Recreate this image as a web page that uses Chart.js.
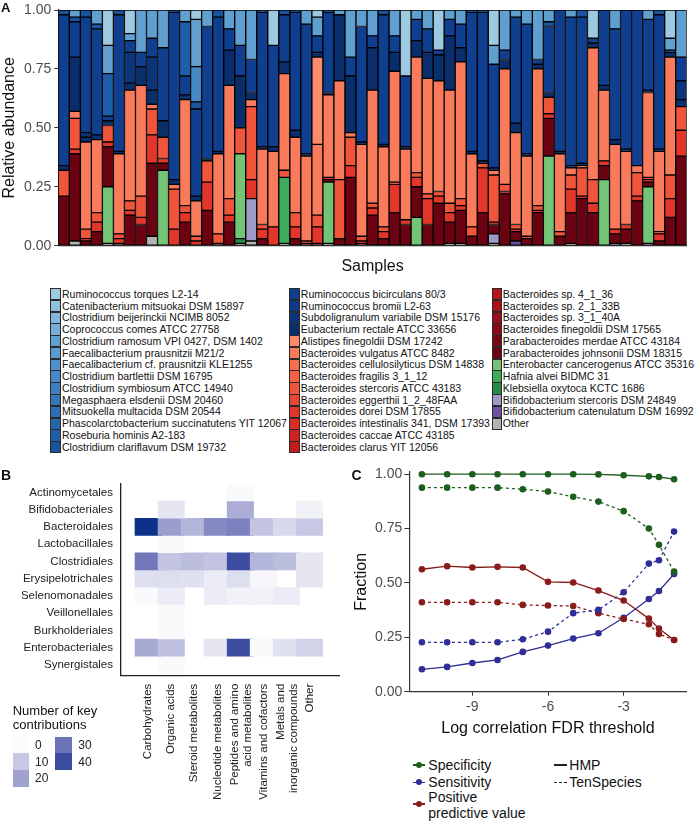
<!DOCTYPE html>
<html><head><meta charset="utf-8">
<script src="https://cdn.jsdelivr.net/npm/chart.js@4.4.1/dist/chart.umd.min.js"></script>
<style>
body{margin:0;background:#fff;width:696px;height:821px;position:relative;overflow:hidden;font-family:"Liberation Sans",Arial,sans-serif;color:#111;}
canvas{position:absolute;}
.t{position:absolute;white-space:nowrap;}
.sw{position:absolute;box-sizing:border-box;}
</style></head><body>
<canvas id="cA" width="696" height="280" style="left:0;top:0"></canvas>
<canvas id="cB" width="345" height="340" style="left:0;top:470px"></canvas>
<canvas id="cC" width="351" height="282" style="left:345px;top:463px"></canvas>
<div id="overlay"></div>
<script>
// ---------------- Panel A data (relative abundance per sample) ----------------
const otherA     = [0,.02,0,0,.01,0,0,0,.04,0, 0,0,0,0,0,0,.01,.02,0,0, .01,0,0,0,.01,0,0,0,0,0, 0,0,0,0,0,.01,.01,0,0,.01, 0,0,0,0,0,0,.01,0,0,0, 0,.01,0,0,0,0,0];
const bifCaten   = [0,0,0,0,0,0,0,0,0,0, 0,0,0,0,0,0,0,0,0,0, 0,0,0,0,0,0,0,0,0,0, 0,0,0,0,0,0,0,0,0,0, 0,.02,0,0,0,0,0,0,0,0, .01,0,0,.01,0,0,0];
const bifSterc   = [0,0,0,0,0,0,0,0,0,0, 0,0,0,0,0,0,0,.18,0,0, 0,0,0,0,0,0,0,0,0,0, 0,0,0,0,0,0,0,0,0,.04, 0,0,0,0,0,0,0,0,0,0, 0,0,0,0,0,0,0];
const klebsiella = [0,0,0,0,0,0,0,0,0,0, 0,0,0,0,0,0,.02,0,0,0, 0,0,0,0,0,0,0,0,0,0, 0,0,0,0,0,0,0,0,0,0, 0,0,0,0,0,0,0,0,0,0, 0,0,0,0,0,0,0];
const hafnia     = [0,0,0,0,0,0,0,0,0,0, 0,0,0,0,0,0,0,0,0,0, .28,0,0,0,0,0,0,0,0,0, 0,0,0,0,0,0,0,0,0,0, 0,0,0,0,0,0,0,0,0,0, 0,0,0,0,0,0,0];
const enterobact = [0,0,0,0,.24,0,0,0,0,.32, 0,0,0,0,0,0,.36,0,0,0, 0,0,0,0,.26,0,0,0,0,0, 0,0,.12,0,0,0,0,0,0,0, 0,0,0,0,.38,0,0,0,0,.28, 0,0,0,.24,0,0,0];
const parabJohn  = [.21,.37,.02,.06,.17,.01,.13,.09,.31,.03, 0,.10,0,.15,.01,.10,0,0,.03,0, 0,.03,.01,.01,.01,.03,.29,.01,.13,.03, .14,.09,.13,.09,.18,.09,.14,.04,.14,.04, .22,.04,.03,.14,.16,.04,.13,.20,.14,.06, .04,.06,.19,.02,.02,.12,.38];
const bactDorei  = [0,.02,.01,.04,.02,.02,.02,.03,.12,.02, .07,.04,.02,.12,0,.03,0,.08,.04,.08, 0,.05,0,.07,.01,0,.05,.01,.03,.03, .12,.02,.04,.11,.03,.04,.02,0,.19,.01, .01,.01,0,.01,.02,0,.10,.01,.04,.02, .02,.02,.02,.01,.03,.08,.11];
const bactSterc  = [.11,.13,.04,.04,.07,.02,.04,.09,.11,.09, .17,.03,.02,.09,.04,.07,.11,.31,.02,0, .03,.06,.01,.05,0,.25,.12,.02,.02,.02, .01,0,.02,.02,.02,.04,.03,.04,.02,.20, .03,.02,.01,.02,.07,.02,.06,.12,.10,0, 0,0,.10,.01,.01,.10,.10];
const bactVulg   = [0,.03,.37,.31,0,.34,.47,.47,.02,0, .02,.45,.15,0,.34,.48,0,.03,.32,.32, .41,.32,.36,.30,.35,.42,.02,.39,.48,.34, .47,.30,.49,.49,.47,.48,.58,.31,0,.02, .49,.39,.34,.58,0,.33,.03,.01,.56,.30, .36,.31,.03,.36,.34,.50,0];
const alistipes  = [0,0,0,0,0,0,0,0,0,0, 0,0,0,0,0,0,0,0,0,0, 0,0,0,.37,0,0,0,0,0,0, 0,0,0,0,0,0,0,0,0,0, 0,0,0,0,0,0,0,0,0,0, 0,0,0,0,0,0,0];
const eubact     = [.02,.23,.02,.02,.02,.01,.03,.08,.06,.07, .02,.02,.02,.01,.01,.15,.22,.03,.01,.02, .05,.03,.01,.02,.01,.28,.24,.01,.18,.01, .08,.01,.07,.11,.11,.23,.06,.01,.01,.01, .04,.04,.01,.02,.02,.01,.01,.01,.02,.02, .02,.01,0,.01,.01,.02,.03];
const subdoli    = [0,0,.02,0,0,0,.13,0,.14,0, 0,0,0,0,0,0,0,0,0,0, 0,0,0,0,0,0,0,0,0,0, 0,0,0,0,0,0,0,0,0,0, 0,0,0,0,0,0,0,0,0,0, 0,0,0,0,0,0,.08];
const rumBicirc  = [.64,.15,.49,.45,.02,.58,.05,.06,.08,.31, .71,.08,.37,.56,.57,.09,.13,.14,.57,.43, .20,.50,.55,.07,.34,0,.08,.49,.05,.55, .07,.30,.09,.10,.02,.07,.10,.59,.63,.44, .04,.45,.55,.02,.28,.60,.63,.62,.02,.32, .47,.59,.66,.30,.57,.01,.10];
const closClari  = [.02,.02,.03,.02,0,.02,0,0,0,0, .01,0,.03,0,.03,0,0,0,.01,0, .02,.01,0,0,.01,0,0,0,0,.02, 0,0,0,0,0,0,0,.01,.01,0, 0,0,0,0,.02,0,0,.03,0,0, 0,0,0,0,.02,0,0];
const roseburia  = [0,0,0,0,.18,0,0,0,0,0, 0,.23,0,0,0,0,0,0,0,0, 0,0,0,0,0,0,0,0,0,0, 0,0,0,0,0,0,0,0,0,0, 0,0,0,0,0,0,0,0,0,0, 0,0,0,0,0,0,0];
const closBartl  = [0,0,0,0,0,0,0,0,0,0, 0,0,.15,0,0,0,0,0,0,0, 0,0,0,0,0,0,0,0,0,0, 0,0,0,0,0,0,0,0,0,0, 0,0,0,0,0,0,0,0,0,0, 0,0,0,0,0,0,0];
const closRamos  = [0,.03,0,.06,.12,0,.03,.18,.12,.16, 0,.05,.20,.07,0,.08,.15,.21,0,0, 0,0,.06,.08,0,.02,.20,.07,.11,0, .11,0,.04,.08,0,.04,.06,0,0,.08, .17,.03,.06,.21,.05,0,.03,0,0,0, .08,0,0,.04,0,.05,.20];
const rumTorques = [0,0,0,0,.15,0,.10,0,0,0, 0,0,.04,0,0,0,0,0,0,.15, 0,0,0,.03,0,0,0,0,0,0, 0,.28,0,0,.17,0,0,0,0,.15, 0,0,0,0,0,0,0,0,.12,0, 0,0,0,0,0,.12,0];
const yTicksA = [0, 0.25, 0.5, 0.75, 1];

// species in legend order (top of stack first): name, colour, values
const species = [
 ['Ruminococcus torques L2-14','#9ecae1',rumTorques],
 ['Catenibacterium mitsuokai DSM 15897','#90bfe0',null],
 ['Clostridium beijerinckii NCIMB 8052','#83b6dc',null],
 ['Coprococcus comes ATCC 27758','#77add8',null],
 ['Clostridium ramosum VPI 0427, DSM 1402','#5fa0d0',closRamos],
 ['Faecalibacterium prausnitzii M21/2','#5a9ad0',null],
 ['Faecalibacterium cf. prausnitzii KLE1255','#4f92cb',null],
 ['Clostridium bartlettii DSM 16795','#4589c6',closBartl],
 ['Clostridium symbiosum ATCC 14940','#3c80c1',null],
 ['Megasphaera elsdenii DSM 20460','#3377ba',null],
 ['Mitsuokella multacida DSM 20544','#2b6eb3',null],
 ['Phascolarctobacterium succinatutens YIT 12067','#2466ac',null],
 ['Roseburia hominis A2-183','#1f5ea8',roseburia],
 ['Clostridium clariflavum DSM 19732','#19549d',closClari],
 ['Ruminococcus bicirculans 80/3','#103f8f',rumBicirc],
 ['Ruminococcus bromii L2-63','#0e3a86',null],
 ['Subdoligranulum variabile DSM 15176','#0c347b',subdoli],
 ['Eubacterium rectale ATCC 33656','#0a2d6c',eubact],
 ['Alistipes finegoldii DSM 17242','#fc8b6a',alistipes],
 ['Bacteroides vulgatus ATCC 8482','#f97b5b',bactVulg],
 ['Bacteroides cellulosilyticus DSM 14838','#f76e4f',null],
 ['Bacteroides fragilis 3_1_12','#f46145',null],
 ['Bacteroides stercoris ATCC 43183','#f0553c',bactSterc],
 ['Bacteroides eggerthii 1_2_48FAA','#eb4534',null],
 ['Bacteroides dorei DSM 17855','#e3362b',bactDorei],
 ['Bacteroides intestinalis 341, DSM 17393','#da2d27',null],
 ['Bacteroides caccae ATCC 43185','#cf2322',null],
 ['Bacteroides clarus YIT 12056','#c31a1e',null],
 ['Bacteroides sp. 4_1_36','#b6141c',null],
 ['Bacteroides sp. 2_1_33B','#a9101a',null],
 ['Bacteroides sp. 3_1_40A','#9b0d18',null],
 ['Bacteroides finegoldii DSM 17565','#8c0a16',null],
 ['Parabacteroides merdae ATCC 43184','#7b0614',null],
 ['Parabacteroides johnsonii DSM 18315','#6a0211',parabJohn],
 ['Enterobacter cancerogenus ATCC 35316','#74c476',enterobact],
 ['Hafnia alvei BIDMC 31','#41ab5d',hafnia],
 ['Klebsiella oxytoca KCTC 1686','#238b45',klebsiella],
 ['Bifidobacterium stercoris DSM 24849','#9e9ac8',bifSterc],
 ['Bifidobacterium catenulatum DSM 16992','#6a51a3',bifCaten],
 ['Other','#b3b3b3',otherA]
];
const samples = rumBicirc.map((_, i) => 'Sample ' + (i + 1));

// ---------------- Panel B data (number of key contributions) ----------------
const orders = ['Actinomycetales','Bifidobacteriales','Bacteroidales','Lactobacillales','Clostridiales','Erysipelotrichales','Selenomonadales','Veillonellales','Burkholderiales','Enterobacteriales','Synergistales'];
const metaboliteClasses = ['Carbohydrates','Organic acids','Steroid metabolites','Nucleotide metabolites',['Peptides and amino','acid metabolites'],'Vitamins and cofactors',['Metals and','inorganic compounds'],'Other'];
const actinomycetales    = [0,0,0,0,1,0,0,0];
const bifidobacteriales  = [0,4.5,0,0,17,0,0,2.5];
const bacteroidales      = [48,21,15,25,27,11,7,10];
const lactobacillales    = [0,1,0,0,0,0,0,0];
const clostridiales      = [29,11,13,11,40,15,13,4.5];
const erysipelotrichales = [6,6,5.5,3.5,6,1.5,0,4.5];
const selenomonadales    = [1,3.5,0,3.5,2.5,2.5,3.5,0];
const veillonellales     = [0,1,0,0,0,0,0,0];
const burkholderiales    = [0,1,0,0,0,0,0,0];
const enterobacteriales  = [18,12,0,4.5,40,1,5.5,8];
const synergistales      = [0,1,0,0,0,0,0,0];
const heatRows = [actinomycetales,bifidobacteriales,bacteroidales,lactobacillales,clostridiales,erysipelotrichales,selenomonadales,veillonellales,burkholderiales,enterobacteriales,synergistales];
const legendBreaks = [0,10,20,30,40];

// ---------------- Panel C data ----------------
const fdrThreshold = [-11,-10,-9,-8,-7,-6,-5,-4,-3,-2,-1.6,-1];
const specHMP = [1.0,1.0,1.0,1.0,1.0,1.0,1.0,0.999,0.995,0.99,0.987,0.977];
const specTen = [0.938,0.938,0.938,0.938,0.931,0.920,0.896,0.874,0.830,0.750,0.675,0.552];
const sensHMP = [0.103,0.114,0.132,0.146,0.183,0.212,0.244,0.269,0.340,0.426,0.463,0.541];
const sensTen = [0.227,0.227,0.227,0.227,0.241,0.276,0.361,0.376,0.457,0.589,0.604,0.736];
const ppvHMP  = [0.563,0.577,0.571,0.574,0.571,0.505,0.502,0.465,0.419,0.336,0.290,0.238];
const ppvTen  = [0.411,0.411,0.411,0.411,0.399,0.396,0.394,0.361,0.334,0.310,0.265,0.238];
const yTicksC = [0,0.25,0.5,0.75,1];
const xTicksC = [-9,-6,-3];

// ---------------- styling ----------------
const FONT = '"Liberation Sans", Arial, sans-serif';
Chart.defaults.font.family = FONT;
Chart.defaults.animation = false;
Chart.defaults.color = '#222';
const AX = '#333';
const GREEN = '#1d5e1d', BLUE = '#2e2e96', RED = '#8a1b1b';

// ---------- Panel A ----------
new Chart(document.getElementById('cA'), {
  type: 'bar',
  data: {
    labels: samples,
    datasets: species.slice().reverse().filter(s => s[2]).map(s => ({
      label: s[0], data: s[2], backgroundColor: s[1],
      borderColor: '#000', borderWidth: 1, borderSkipped: false,
      barPercentage: 1, categoryPercentage: 1
    }))
  },
  options: {
    responsive: false,
    layout: { padding: { left: 0, top: 7.3, right: 9.3, bottom: 0.3 } },
    plugins: { legend: { display: false }, tooltip: { enabled: false } },
    scales: {
      x: { stacked: true, ticks: { display: false }, grid: { display: false, drawTicks: false },
           border: { display: true, color: AX, width: 1.2 },
           title: { display: true, text: 'Samples', color: '#111', font: { size: 16 }, padding: { top: 0, bottom: 4 } },
           afterFit: s => { s.height = 34; } },
      y: { stacked: true, min: 0, max: 1,
           afterBuildTicks: s => { s.ticks = yTicksA.map(v => ({ value: v })); },
           ticks: { callback: v => Number(v).toFixed(2), color: '#4d4d4d', font: { size: 14, lineHeight: 1 }, padding: 3 },
           grid: { display: true, drawOnChartArea: false, drawTicks: true, tickLength: 4, color: AX },
           border: { display: true, color: AX, width: 1.2 },
           title: { display: true, text: 'Relative abundance', color: '#111', font: { size: 16 }, padding: { top: 0, bottom: 0 } },
           afterFit: s => { s.width = 58.3; } }
    }
  }
});

// ---------- Panel B ----------
const stops = [[0,[255,255,255]],[10,[199,200,227]],[20,[160,162,208]],[30,[108,114,182]],[40,[60,76,158]],[48,[13,48,136]]];
function heatColour(v) {
  if (!v) return 'rgba(0,0,0,0)';
  for (let k = 1; k < stops.length; k++) {
    if (v <= stops[k][0]) {
      const [a, ca] = stops[k-1], [b, cb] = stops[k];
      const t = (v - a) / (b - a);
      const c = ca.map((x, j) => Math.round(x + (cb[j] - x) * t));
      return `rgb(${c[0]},${c[1]},${c[2]})`;
    }
  }
  const c = stops[stops.length-1][1];
  return `rgb(${c[0]},${c[1]},${c[2]})`;
}
// two-line rotated labels: place the tick half a text line to the left so both lines sit centred on the cell
const halfLineUnits = 0.25;
const cellWidthPx = 26.4;
new Chart(document.getElementById('cB'), {
  type: 'bar',
  data: {
    datasets: heatRows.map((row, i) => ({
      label: orders[i],
      data: row.map((v, j) => ({ x: j, y: [i - 0.5, i + 0.5] })),
      backgroundColor: row.map(v => heatColour(v)),
      borderWidth: 0, barThickness: cellWidthPx, grouped: false
    }))
  },
  options: {
    responsive: false,
    layout: { padding: { left: 0, top: 7.3, right: 6, bottom: 0 } },
    plugins: { legend: { display: false }, tooltip: { enabled: false } },
    scales: {
      x: { type: 'linear', position: 'bottom', min: -0.59, max: 7.69,
           afterBuildTicks: s => { s.ticks = metaboliteClasses.map((l, i) => ({ value: Array.isArray(l) ? i - halfLineUnits : i })); },
           ticks: { callback: v => metaboliteClasses[Math.round(v)], minRotation: 90, maxRotation: 90, autoSkip: false,
                    color: '#222', font: { size: 11.5, lineHeight: 1.15 }, padding: 8 },
           grid: { display: false, drawTicks: false },
           border: { display: true, color: '#222', width: 1.3 },
           afterFit: s => { s.height = 134.3; } },
      y: { type: 'linear', min: -0.5, max: 10.63, reverse: true,
           afterBuildTicks: s => { s.ticks = orders.map((_, i) => ({ value: i })); },
           ticks: { callback: v => orders[Math.round(v)], color: '#222', font: { size: 11.5, lineHeight: 1 }, padding: 8, autoSkip: false },
           grid: { display: false, drawTicks: false },
           border: { display: true, color: '#222', width: 1.3 },
           afterFit: s => { s.width = 121; } }
    }
  }
});

// ---------- Panel C ----------
function series(vals, colour, dashed) {
  return { data: vals.map((v, i) => ({ x: fdrThreshold[i], y: v })), borderColor: colour, backgroundColor: colour,
           pointBackgroundColor: colour, pointBorderWidth: 0, pointRadius: 3.3, borderWidth: 1.3,
           borderDash: dashed ? [3, 3] : [], tension: 0, clip: false, fill: false };
}
new Chart(document.getElementById('cC'), {
  type: 'line',
  data: { datasets: [
    series(specTen, GREEN, true), series(sensTen, BLUE, true), series(ppvTen, RED, true),
    series(specHMP, GREEN, false), series(sensHMP, BLUE, false), series(ppvHMP, RED, false)
  ] },
  options: {
    responsive: false,
    layout: { padding: { left: 0, top: 9, right: 9.3, bottom: 0 } },
    plugins: { legend: { display: false }, tooltip: { enabled: false } },
    scales: {
      x: { type: 'linear', min: -11.5, max: -0.5,
           afterBuildTicks: s => { s.ticks = xTicksC.map(v => ({ value: v })); },
           ticks: { callback: v => String(v), color: '#4d4d4d', font: { size: 14, lineHeight: 1 }, padding: 4 },
           grid: { display: true, drawOnChartArea: false, drawTicks: true, tickLength: 4, color: AX },
           border: { display: true, color: AX, width: 1.2 },
           title: { display: true, text: 'Log correlation FDR threshold', color: '#111', font: { size: 16 }, padding: { top: 0, bottom: 7 } },
           afterFit: s => { s.height = 53.3; } },
      y: { type: 'linear', min: 0, max: 1.01,
           afterBuildTicks: s => { s.ticks = yTicksC.map(v => ({ value: v })); },
           ticks: { callback: v => Number(v).toFixed(2), color: '#4d4d4d', font: { size: 14, lineHeight: 1 }, padding: 2 },
           grid: { display: true, drawOnChartArea: false, drawTicks: true, tickLength: 5, color: AX },
           border: { display: true, color: AX, width: 1.2 },
           title: { display: true, text: 'Fraction', color: '#111', font: { size: 16 }, padding: { top: 7, bottom: 0 } },
           afterFit: s => { s.width = 64.3; } }
    }
  }
});

// ---------- HTML overlays: panel letters and legends ----------
const ov = document.getElementById('overlay');
function txt(s, left, cy, fs, extra) {
  const d = document.createElement('div');
  d.className = 't'; d.textContent = s;
  d.style.cssText += `left:${left}px;top:${cy - fs / 2}px;font-size:${fs}px;line-height:${fs}px;` + (extra || '');
  ov.appendChild(d); return d;
}
function box(left, top, w, h, css) {
  const d = document.createElement('div');
  d.className = 'sw';
  d.style.cssText += `left:${left}px;top:${top}px;width:${w}px;height:${h}px;` + css;
  ov.appendChild(d); return d;
}
txt('A', 1, 7.5, 13, 'font-weight:bold;');
txt('B', 1, 475, 14, 'font-weight:bold;');
txt('C', 351.5, 475, 14, 'font-weight:bold;');

// legend A (3 columns)
const colSw = [50, 289.3, 491.7], colTx = [62, 300.8, 502.8], colStart = [0, 14, 28];
species.forEach((s, i) => {
  const c = i < 14 ? 0 : (i < 28 ? 1 : 2);
  const r = i - colStart[c];
  const cy = 294 + r * 11.77;
  box(colSw[c], cy - 5.9, 10.8, 12.3, `background:${s[1]};border:1px solid #2a2a2a;`);
  txt(s[0], colTx[c], cy, 10.5, 'color:#111;');
});

// legend B
txt('Number of key', 12.7, 710, 13);
txt('contributions', 12.7, 724.3, 13);
const lbPos = [[12.7, 736.7, 35], [12.7, 753.3, 35], [12.7, 770, 35], [55, 736.7, 78.3], [55, 753.3, 78.3]];
legendBreaks.forEach((v, i) => {
  const [x, y, tx] = lbPos[i];
  box(x, y, 16.7, 16.7, `background:${v === 0 ? '#fbfbfd' : heatColour(v)};`);
  txt(String(v), tx, y + 8.4, 12, 'color:#222;');
});

// legend C
function keySym(x0, x1, cy, colour, dashed, dot) {
  box(x0, cy - 0.7, x1 - x0, 1.4, dashed ? `border-top:1.4px dashed ${colour};height:0;` : `background:${colour};`);
  if (dot) box((x0 + x1) / 2 - 3.2, cy - 3.2, 6.4, 6.4, `background:${colour};border-radius:50%;`);
}
keySym(413.3, 425, 765, GREEN, false, true);  txt('Specificity', 428.3, 765, 14);
keySym(413.3, 425, 782.3, BLUE, false, true); txt('Sensitivity', 428.3, 782.3, 14);
keySym(413.3, 425, 804, RED, false, true);    txt('Positive', 428.3, 796.7, 14); txt('predictive value', 428.3, 812.7, 14);
keySym(554, 566.7, 765, '#222', false, false); txt('HMP', 569.3, 765, 14);
keySym(554, 566.7, 782.3, '#222', true, false); txt('TenSpecies', 569.3, 782.3, 14);
</script>
</body></html>
